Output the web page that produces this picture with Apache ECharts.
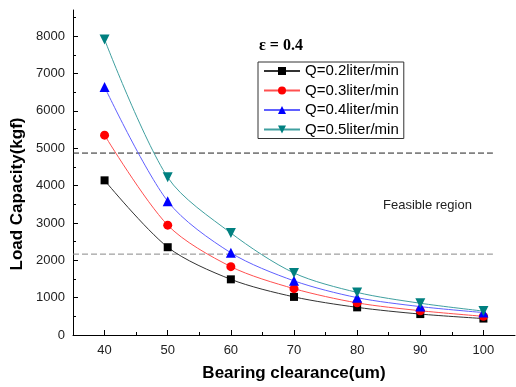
<!DOCTYPE html>
<html>
<head>
<meta charset="utf-8">
<script src="https://cdn.jsdelivr.net/npm/echarts@6/dist/echarts.min.js"></script>
<style>
  html, body { margin: 0; padding: 0; background: #fff; }
  #chart { width: 516px; height: 387px; }
</style>
</head>
<body>
<div id="chart"></div>
<script>
// bearing clearance (um)
const clearance = [40, 50, 60, 70, 80, 90, 100]
// load capacity (kgf) per flow rate
const q02 = [4140, 2350, 1490, 1020, 740, 560, 440]
const q03 = [5350, 2940, 1830, 1240, 860, 650, 500]
const q04 = [6640, 3580, 2200, 1450, 1000, 760, 600]
const q05 = [7910, 4220, 2730, 1660, 1140, 850, 640]
const seriesNames = ['Q=0.2liter/min', 'Q=0.3liter/min', 'Q=0.4liter/min', 'Q=0.5liter/min']
// feasible region limits (kgf)
const upperLimit = 4870
const lowerLimit = 2165
const xMajor = [40, 50, 60, 70, 80, 90, 100]
const xMinor = [45, 55, 65, 75, 85, 95]
const yMajor = [0, 1000, 2000, 3000, 4000, 5000, 6000, 7000, 8000]
const yMinor = [500, 1500, 2500, 3500, 4500, 5500, 6500, 7500, 8500]

const chart = echarts.init(document.getElementById('chart'))

const pairs = (ys) => clearance.map((x, i) => [x, ys[i]])

const makeSeries = (name, ys, lineColor, color, symbol, size) => ({
  name,
  type: 'line',
  data: pairs(ys),
  smooth: 0.3,
  symbol,
  symbolSize: size,
  itemStyle: { color },
  lineStyle: { color: lineColor, width: 1 },
  z: 3,
})

const limitLine = (y, color) => ({
  type: 'line',
  data: [[35, y], [101.5, y]],
  symbol: 'none',
  silent: true,
  lineStyle: { color, width: 1, type: [6, 3] },
  z: 1,
})

const axisFont = { fontFamily: 'Liberation Sans', fontSize: 13, color: '#222' }
const plain = (v) => String(v)

chart.setOption({
  animation: false,
  backgroundColor: '#fff',
  grid: { left: 73, right: 1, top: 10, bottom: 52 },
  legend: {
    data: seriesNames,
    orient: 'vertical',
    left: 258,
    top: 62,
    padding: [1, 5, 1, 5],
    itemGap: 3.5,
    itemWidth: 36,
    itemHeight: 10,
    borderColor: '#333',
    borderWidth: 1,
    textStyle: { fontFamily: 'Liberation Sans', fontSize: 15, color: '#000', lineHeight: 16 },
  },
  xAxis: [
    {
      type: 'value',
      min: 35,
      max: 105,
      name: 'Bearing clearance(um)',
      nameLocation: 'middle',
      nameGap: 30,
      nameTextStyle: { fontFamily: 'Liberation Sans', fontSize: 17, fontWeight: 'bold', color: '#000' },
      axisLine: { lineStyle: { color: '#000', width: 1 } },
      axisTick: { inside: true, length: 5, customValues: xMajor, lineStyle: { color: '#000' } },
      axisLabel: { margin: 9, customValues: xMajor, formatter: plain, ...axisFont },
      splitLine: { show: false },
    },
    {
      type: 'value',
      min: 35,
      max: 105,
      position: 'bottom',
      axisLine: { show: false },
      axisTick: { inside: true, length: 3, customValues: xMinor, lineStyle: { color: '#000' } },
      axisLabel: { show: false },
      splitLine: { show: false },
    },
  ],
  yAxis: [
    {
      type: 'value',
      min: 0,
      max: 8700,
      axisLine: { show: true, lineStyle: { color: '#000', width: 1 } },
      axisTick: { show: true, inside: true, length: 5, customValues: yMajor, lineStyle: { color: '#000' } },
      axisLabel: { margin: 8, customValues: yMajor, formatter: plain, ...axisFont },
      splitLine: { show: false },
    },
    {
      type: 'value',
      min: 0,
      max: 8700,
      position: 'left',
      axisLine: { show: false },
      axisTick: { show: true, inside: true, length: 3, customValues: yMinor, lineStyle: { color: '#000' } },
      axisLabel: { show: false },
      splitLine: { show: false },
    },
  ],
  graphic: [
    {
      type: 'text',
      x: 17,
      y: 194,
      rotation: Math.PI / 2,
      style: {
        text: 'Load Capacity(kgf)',
        font: 'bold 17px "Liberation Sans"',
        fill: '#000',
        textAlign: 'center',
        textVerticalAlign: 'middle',
      },
    },
    {
      type: 'text',
      x: 259,
      y: 46,
      style: {
        text: 'ε = 0.4',
        font: 'bold 16px "Liberation Serif"',
        fill: '#000',
        textAlign: 'left',
        textVerticalAlign: 'middle',
      },
    },
    {
      type: 'text',
      x: 383,
      y: 205,
      style: {
        text: 'Feasible region',
        font: '13px "Liberation Sans"',
        fill: '#222',
        textAlign: 'left',
        textVerticalAlign: 'middle',
      },
    },
  ],
  series: [
    limitLine(upperLimit, '#222'),
    limitLine(lowerLimit, '#888'),
    makeSeries(seriesNames[0], q02, '#333', '#000', 'rect', 8),
    makeSeries(seriesNames[1], q03, '#ff5050', '#ff0000', 'circle', 9),
    makeSeries(seriesNames[2], q04, '#6060ff', '#0000ff', 'triangle', 10),
    makeSeries(seriesNames[3], q05, '#40a0a0', '#008080', 'path://M0,0L10,0L5,9Z', 10),
  ],
})
</script>
</body>
</html>
